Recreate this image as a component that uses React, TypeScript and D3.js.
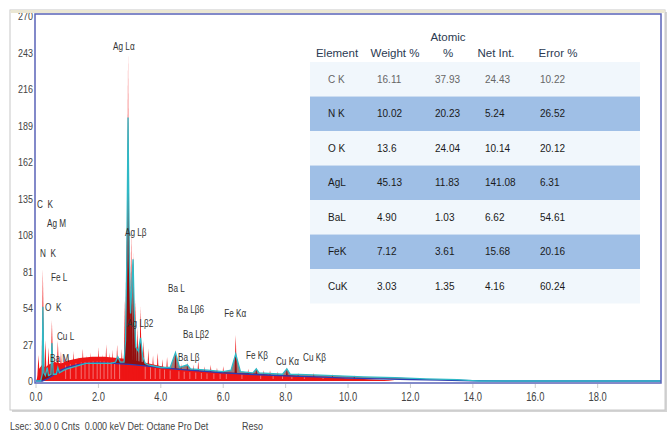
import React from 'react';
import * as d3 from 'd3';

// ---------- data ----------
const yTicks = [0, 27, 54, 81, 108, 135, 162, 189, 216, 243, 270];
const xTicks = [0, 2, 4, 6, 8, 10, 12, 14, 16, 18];

// red measured spectrum: continuum envelope (keV, counts)
const continuumE = [0, 0.05, 0.1, 0.2, 0.3, 0.4, 0.6, 0.8, 1.0, 1.4, 1.8, 2.2, 2.6, 3.0, 3.4, 3.8, 4.2, 4.6, 5.0, 5.5, 6.0, 6.5, 7.0, 7.5, 8.0, 8.5, 9.0, 9.5, 10.0, 10.5, 11.0, 11.3, 11.5, 20.03];
const continuumC = [0, 3, 9, 12, 10, 12, 14, 13, 15, 17, 18, 18, 17, 16, 14, 12, 10, 9, 8, 7, 6.5, 6, 5.5, 4.5, 4.5, 3.5, 3, 2.5, 2, 1.5, 1, 0.5, 0, 0];

// red spikes / peaks (keV, counts)
const spikeE = [0.08, 0.22, 0.3, 0.4, 0.51, 0.6, 0.7, 0.8, 0.92, 1.05, 1.2, 1.35, 1.5, 1.62, 1.75, 1.9, 2.0, 2.12, 2.25, 2.35, 2.45, 2.6, 2.75, 2.85, 2.9, 2.95, 3.0, 3.05, 3.12, 3.18, 3.25, 3.35, 3.45, 3.6, 3.75, 3.9, 4.05, 4.2, 4.47, 4.65, 4.85, 5.05, 5.2, 5.4, 5.6, 5.8, 6.0, 6.4, 6.8, 7.06, 7.3, 7.5, 7.75, 8.04, 8.4, 8.9, 9.5, 10.2];
const spikeC = [19, 83, 30, 25, 45, 18, 30, 22, 20, 19, 22, 18, 24, 19, 21, 18, 25, 20, 27, 21, 23, 27, 24, 60, 115, 243, 115, 110, 95, 60, 40, 55, 30, 24, 19, 21, 16, 18, 23, 13, 14, 12, 15, 11, 12, 10, 11, 34, 9, 10, 8, 8, 7, 10, 6, 6, 5, 4];

// white noise gaps inside the red fill (keV)
const gapE = [0.95, 1.1, 1.28, 1.45, 1.57, 1.7, 1.83, 1.96, 2.06, 2.18, 2.3, 2.41, 2.52, 2.68, 3.5, 3.67, 3.82, 3.97, 4.12, 4.3, 4.58, 4.75, 4.93, 5.12, 5.3, 5.48, 5.7, 5.9, 6.1, 6.6, 7.2, 7.6, 7.9, 8.2, 8.6, 9.2];

// fitted spectrum (teal line)
const fitE = [0, 0.15, 0.2, 0.22, 0.25, 0.3, 0.36, 0.4, 0.48, 0.51, 0.55, 0.65, 0.7, 0.75, 0.9, 1.0, 1.3, 1.6, 2.0, 2.4, 2.55, 2.62, 2.7, 2.82, 2.87, 2.91, 2.95, 2.99, 3.03, 3.07, 3.11, 3.15, 3.2, 3.28, 3.35, 3.42, 3.5, 3.6, 4.0, 4.3, 4.47, 4.6, 4.85, 4.95, 5.5, 6.0, 6.25, 6.4, 6.55, 6.95, 7.06, 7.15, 7.9, 8.04, 8.15, 8.9, 9.5, 10.5, 11.5, 12.5, 13.5, 14.0, 14.2, 20.03];
const fitC = [0, 0, 5, 55, 6, 4, 10, 4, 5, 28, 5, 5, 10, 6, 8, 9, 11, 13, 13, 13, 14, 18, 14, 14, 30, 90, 195, 90, 50, 70, 90, 50, 25, 22, 32, 18, 13, 12, 10, 10, 21, 10, 12, 9, 8, 7, 8, 20, 7, 6, 9, 6, 5, 9, 5, 4.5, 4, 3, 2.5, 1.5, 1, 0.3, 0, 0];

// background (blue line)
const bgE = [0, 0.2, 0.4, 0.6, 0.8, 1.0, 1.3, 1.6, 2.0, 2.5, 3.0, 3.5, 4.0, 4.5, 5.0, 6.0, 7.0, 8.0, 9.0, 10.0, 11.0, 12.0, 13.0, 14.0, 15.0, 20.03];
const bgC = [0, 0, 2, 5, 8, 10, 12, 13, 13.3, 13, 12.3, 11.2, 10, 8.8, 7.8, 6, 4.8, 3.8, 3, 2.2, 1.6, 1.1, 0.6, 0.2, 0, 0];

// peak labels (text, keV of left edge, counts of baseline)
const peakLabels = ['Ag Lα', 'C  K', 'Ag M', 'N  K', 'Fe L', 'O  K', 'Cu L', 'Ba M', 'Ag Lβ', 'Ag Lβ2', 'Ba L', 'Ba Lβ6', 'Ba Lβ2', 'Ba Lβ', 'Fe Kα', 'Fe Kβ', 'Cu Kα', 'Cu Kβ'];
const labelE = [2.47, 0.03, 0.35, 0.13, 0.48, 0.29, 0.67, 0.45, 2.85, 2.92, 4.23, 4.55, 4.71, 4.55, 6.03, 6.73, 7.69, 8.56];
const labelC = [245, 128, 114, 92, 74, 52, 30, 14, 107, 40, 66, 50, 32, 15, 47, 16, 12, 15];

// quantification table
const tableHeader1 = ['', '', 'Atomic', '', ''];
const tableHeader2 = ['Element', 'Weight %', '%', 'Net Int.', 'Error %'];
const elements = ['C K', 'N K', 'O K', 'AgL', 'BaL', 'FeK', 'CuK'];
const weightPct = ['16.11', '10.02', '13.6', '45.13', '4.90', '7.12', '3.03'];
const atomicPct = ['37.93', '20.23', '24.04', '11.83', '1.03', '3.61', '1.35'];
const netInt = ['24.43', '5.24', '10.14', '141.08', '6.62', '15.68', '4.16'];
const errorPct = ['10.22', '26.52', '20.12', '6.31', '54.61', '20.16', '60.24'];

const footerLeft = 'Lsec: 30.0 0 Cnts  0.000 keV Det: Octane Pro Det';
const footerRight = 'Reso';

// ---------- layout ----------
const W = 670;
const H = 436;
const PL = 35, PT = 14, PR = 661, PB = 383;
const sans = "'Liberation Sans', Arial, sans-serif";

function Narrow(props: { x: number; y: number; size: number; anchor?: string; fill?: string; children: React.ReactNode }) {
  const { x, y, size, anchor, fill, children } = props;
  return (
    <text transform={`translate(${x},${y}) scale(0.78,1)`} textAnchor={anchor || 'start'}
      fontFamily={sans} fontSize={size} fill={fill || '#444'} style={{ whiteSpace: 'pre' }}>{children}</text>
  );
}

export default function App() {
  const x = d3.scaleLinear().domain([0, 20.03]).range([36, 661]);
  const y = d3.scaleLinear().domain([0, 270]).range([381, 16]);
  const bgScale = d3.scaleLinear().domain(bgE).range(bgC).clamp(true);
  const contScale = d3.scaleLinear().domain(continuumE).range(continuumC).clamp(true);

  const cont = continuumE.map((e, i) => ({ e, c: continuumC[i] }));
  const fit = fitE.map((e, i) => ({ e, c: fitC[i] }));
  const bg = bgE.map((e, i) => ({ e, c: bgC[i] }));

  const area = d3.area<{ e: number; c: number }>()
    .x(d => x(d.e)).y0(y(0)).y1(d => y(d.c));
  const line = d3.line<{ e: number; c: number }>()
    .x(d => x(d.e)).y(d => y(d.c));
  const fitDark = d3.area<{ e: number; c: number }>()
    .x(d => x(d.e))
    .y0(d => y(Math.min(bgScale(d.e), d.c)))
    .y1(d => y(d.c));

  const hw = 0.045;
  const spikes = spikeE.map((e, i) => [
    { e: e - hw, c: 0 }, { e, c: spikeC[i] }, { e: e + hw, c: 0 },
  ]);

  const tableCols = [elements, weightPct, atomicPct, netInt, errorPct];
  const colLeft = [328, 377, 435, 485, 540];
  const headCenter = [337, 395, 448, 496, 558];
  const rowTop = 62;
  const rowH = 34.5;

  return (
    <svg width={W} height={H} style={{ position: 'absolute', left: 0, top: 0, background: '#fff' }}>
      <defs>
        <clipPath id="plotClip">
          <rect x={PL} y={PT} width={PR - PL} height={PB - PT} />
        </clipPath>
        <clipPath id="tickClip">
          <rect x={0} y={13} width={PL} height={PB} />
        </clipPath>
      </defs>

      {/* outer frame with shadow */}
      <rect x={12} y={12} width={655} height={400} fill="#d4d4d4" />
      <rect x={10} y={10} width={655} height={400} fill="#fff" stroke="#c8c8c8" strokeWidth={1} />
      <rect x={10.5} y={10} width={654} height={3} fill="#ebe7d3" />

      {/* table */}
      {elements.map((_, i) => (
        <rect key={'row' + i} x={310} y={rowTop + i * rowH} width={330} height={rowH}
          fill={i % 2 === 1 ? '#9fbfe6' : '#f1f7fc'} />
      ))}
      {tableHeader1.map((t, i) => (
        <text key={'h1' + i} x={headCenter[i]} y={41} textAnchor="middle" fontFamily={sans}
          fontSize={11.5} fill="#2b3a52">{t}</text>
      ))}
      {tableHeader2.map((t, i) => (
        <text key={'h2' + i} x={headCenter[i]} y={57} textAnchor="middle" fontFamily={sans}
          fontSize={11.5} fill="#2b3a52">{t}</text>
      ))}
      {tableCols.map((col, j) => col.map((t, i) => (
        <text key={'c' + j + '-' + i} x={colLeft[j]} y={rowTop + i * rowH + rowH / 2 + 3.5}
          fontFamily={sans} fontSize={10} fill={i === 0 ? '#666' : '#1a1a1a'}>{t}</text>
      )))}

      {/* spectrum */}
      <g clipPath="url(#plotClip)">
        <path d={area(cont) || ''} fill="#ee1515" />
        {spikes.map((s, i) => (
          <path key={'sp' + i} d={area(s) || ''} fill="#ee1515" />
        ))}
        {gapE.map((e, i) => (
          <line key={'gap' + i} x1={x(e)} x2={x(e)} y1={y(1.5)} y2={y(contScale(e) * 0.8)}
            stroke="#fff" strokeWidth={0.8} opacity={0.5} />
        ))}
        <path d={fitDark(fit) || ''} fill="#4a0808" opacity={0.55} />
        <path d={line(bg) || ''} fill="none" stroke="#2b3db4" strokeWidth={1.3} />
        <path d={line(fit) || ''} fill="none" stroke="#2fb9c6" strokeWidth={1.3} />
      </g>

      {/* peak labels */}
      {peakLabels.map((t, i) => (
        <Narrow key={'pl' + i} x={x(labelE[i])} y={y(labelC[i])} size={10.5} fill="#333">{t}</Narrow>
      ))}

      {/* plot border */}
      <rect x={PL} y={PT} width={PR - PL} height={PB - PT} fill="none" stroke="#5a63b8" strokeWidth={1.5} />

      {/* y axis labels */}
      <g clipPath="url(#tickClip)">
        {yTicks.map(t => (
          <Narrow key={'yt' + t} x={33} y={y(t) + 4} size={11.5} anchor="end">{t}</Narrow>
        ))}
      </g>

      {/* x axis ticks */}
      {xTicks.map(t => (
        <g key={'xt' + t}>
          <line x1={x(t)} x2={x(t)} y1={PB + 1} y2={PB + 5} stroke="#ccc" strokeWidth={1} />
          <Narrow x={x(t)} y={401} size={12} anchor="middle">{t.toFixed(1)}</Narrow>
        </g>
      ))}

      {/* footer */}
      <Narrow x={10} y={430} size={11.5}>{footerLeft}</Narrow>
      <Narrow x={242} y={430} size={11.5}>{footerRight}</Narrow>
    </svg>
  );
}
